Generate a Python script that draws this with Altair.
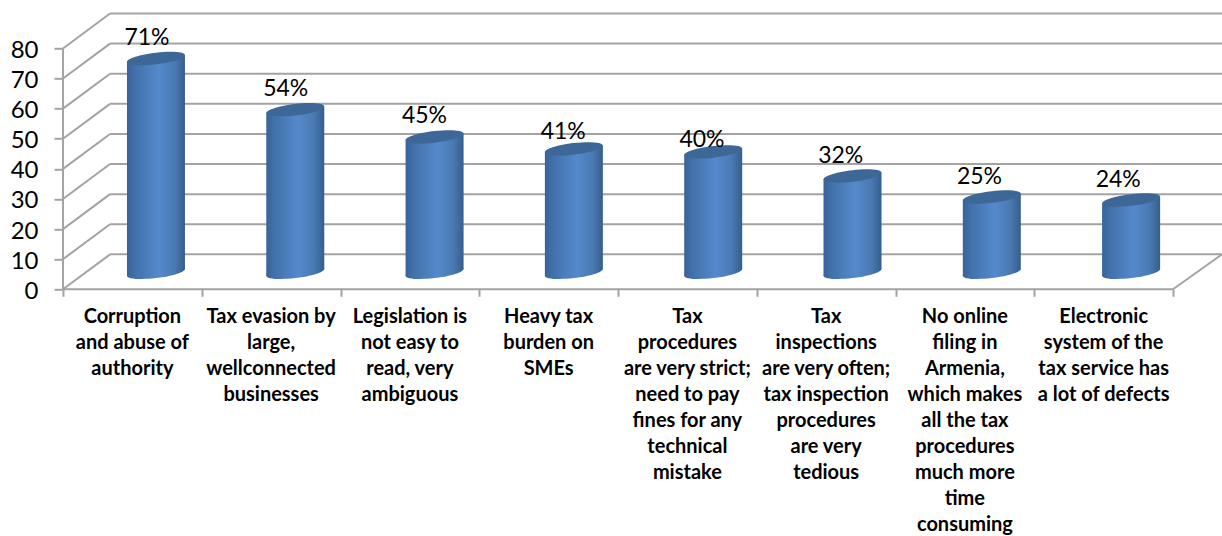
import altair as alt
import pandas as pd

categories = [
    "Corruption\nand abuse of\nauthority",
    "Tax evasion by\nlarge,\nwellconnected\nbusinesses",
    "Legislation is\nnot easy to\nread, very\nambiguous",
    "Heavy tax\nburden on\nSMEs",
    "Tax\nprocedures\nare very strict;\nneed to pay\nfines for any\ntechnical\nmistake",
    "Tax\ninspections\nare very often;\ntax inspection\nprocedures\nare very\ntedious",
    "No online\nfiling in\nArmenia,\nwhich makes\nall the tax\nprocedures\nmuch more\ntime\nconsuming",
    "Electronic\nsystem of the\ntax service has\na lot of defects",
]
values = [71, 54, 45, 41, 40, 32, 25, 24]
y_ticks = [0, 10, 20, 30, 40, 50, 60, 70, 80]
x_ticks = [0, 1, 2, 3, 4, 5, 6, 7, 8]

# Oblique projection of the 3D box, in axis units
BACK_DX, BACK_DY = 0.339, 11.6
MID_DY = 5.64
HALF_W = 0.209
TILT = 1.1
X_MAX, Y_MAX = 8.353, 92.0
FONT = "Lato"
GRID = "#a3a3a3"
label_lift = [6.9, 6.9, 6.9, 5.6, 4.0, 6.6, 6.6, 6.6]

n = len(values)
centers = [0.67 + i * 1.004 for i in range(n)]

bars = pd.DataFrame({"cat": categories, "value": values, "cx": centers})
bars["top"] = bars["value"] + MID_DY
bars["base"] = MID_DY
bars["tx"] = [0.605 + i for i in range(n)]
bars["ty"] = [v + MID_DY + l for v, l in zip(values, label_lift)]
bars["label"] = [f"{v}%" for v in values]
bars["lx"] = [0.5 + i for i in range(n)]

sides = pd.DataFrame(
    [
        {
            "cat": c,
            "x": cx + side * HALF_W,
            "top": v + MID_DY + side * TILT,
            "bottom": MID_DY + side * TILT,
        }
        for c, v, cx in zip(categories, values, centers)
        for side in (-1, 1)
    ]
)

grid = pd.DataFrame({"v": y_ticks})
grid["back"] = grid["v"] + BACK_DY


def tilted_ellipse(k=0.2, s=0.115):
    """Unit-width tilted ellipse as an SVG path, for the cylinder caps."""
    c = 0.5523
    def pt(x, y):
        return f"{x:.4f},{k * y - s * x:.4f}"
    return (
        f"M{pt(1, 0)}"
        f"C{pt(1, c)} {pt(c, 1)} {pt(0, 1)}"
        f"C{pt(-c, 1)} {pt(-1, c)} {pt(-1, 0)}"
        f"C{pt(-1, -c)} {pt(-c, -1)} {pt(0, -1)}"
        f"C{pt(c, -1)} {pt(1, -c)} {pt(1, 0)}Z"
    )


cap_path = tilted_ellipse()
CAP_SIZE = 58 ** 2

body_fill = alt.Gradient(
    gradient="linear",
    x1=0, y1=0, x2=1, y2=0,
    stops=[
        alt.GradientStop(offset=0, color="#38629a"),
        alt.GradientStop(offset=0.15, color="#4372ab"),
        alt.GradientStop(offset=0.55, color="#5489cc"),
        alt.GradientStop(offset=0.82, color="#4a7ab2"),
        alt.GradientStop(offset=1, color="#365e8c"),
    ],
)

x_scale = alt.Scale(domain=[0, X_MAX], nice=False, zero=False)
y_scale = alt.Scale(domain=[0, Y_MAX], nice=False, zero=False)

# Every layer shares these two axis definitions
x_axis = alt.Axis(
    values=x_ticks, labels=False, title=None, domain=False, grid=False,
    tickColor=GRID, tickWidth=2, tickSize=7,
)
y_axis = alt.Axis(
    values=y_ticks, title=None, domain=False, grid=False,
    tickColor=GRID, tickWidth=2, tickSize=9,
    labelFont=FONT, labelFontSize=24, labelColor="#000000",
    labelPadding=16, labelOffset=2, labelOverlap=False, labelBound=False, labelFlush=False,
)


def qx(field):
    return alt.X(field, scale=x_scale, axis=x_axis)


def qy(field, **kwargs):
    return alt.Y(field, scale=y_scale, axis=y_axis, **kwargs)


# Left wall gridlines
side_lines = alt.Chart(grid).mark_rule(color=GRID, strokeWidth=2).encode(
    x=alt.datum(0, type="quantitative", scale=x_scale, axis=x_axis),
    x2=alt.datum(BACK_DX),
    y=qy("v:Q"),
    y2="back:Q",
)
# Back wall gridlines
back_lines = alt.Chart(grid).mark_rule(color=GRID, strokeWidth=2).encode(
    x=alt.datum(BACK_DX, type="quantitative", scale=x_scale, axis=x_axis),
    x2=alt.datum(X_MAX),
    y=qy("back:Q"),
)

# Front edges of the box: value axis, category axis and the floor's right edge
edges = pd.DataFrame(
    [
        {"x": 0, "x2": 0, "y": 0, "y2": y_ticks[-1]},
        {"x": 0, "x2": x_ticks[-1], "y": 0, "y2": 0},
        {"x": x_ticks[-1], "x2": x_ticks[-1] + BACK_DX + 0.014, "y": 0, "y2": BACK_DY},
    ]
)
edge_lines = alt.Chart(edges).mark_rule(color=GRID, strokeWidth=2).encode(
    x=qx("x:Q"),
    x2="x2:Q",
    y=qy("y:Q"),
    y2="y2:Q",
)

# Cylinders: lower cap, shaded side wall, upper cap
bottom_cap = alt.Chart(bars).mark_point(
    filled=True, shape=cap_path, size=CAP_SIZE, fill=body_fill, opacity=1, strokeWidth=0
).encode(x=qx("cx:Q"), y=qy("base:Q"))
wall = alt.Chart(sides).mark_area(fill=body_fill, opacity=1, interpolate="linear").encode(
    x=qx("x:Q"),
    y=qy("top:Q", stack=None),
    y2="bottom:Q",
    detail="cat:N",
)
top_cap = alt.Chart(bars).mark_point(
    filled=True, shape=cap_path, size=CAP_SIZE, fill="#3c6797", opacity=1, strokeWidth=0
).encode(x=qx("cx:Q"), y=qy("top:Q"))

value_labels = alt.Chart(bars).mark_text(
    font=FONT, fontSize=23, color="#000000", baseline="middle", align="center"
).encode(x=qx("tx:Q"), y=qy("ty:Q"), text="label:N")

category_labels = alt.Chart(bars).mark_text(
    font=FONT, fontSize=20, fontWeight="bold", color="#000000",
    baseline="top", align="center", lineBreak="\n", lineHeight=26,
).encode(x=qx("lx:Q"), y=alt.value(295), text="cat:N")

chart = (
    alt.layer(
        side_lines, back_lines, edge_lines,
        bottom_cap, wall, top_cap,
        value_labels, category_labels,
    )
    .properties(
        width=1159,
        height=277,
        padding={"left": 63, "top": 12.3, "right": 0, "bottom": 246},
        autosize=alt.AutoSizeParams(type="none"),
        background="#ffffff",
    )
    .configure_view(stroke=None)
    .configure_axis(labelOverlap=False)
)

chart.save("out.html", embed_options={"renderer": "svg", "actions": False})
